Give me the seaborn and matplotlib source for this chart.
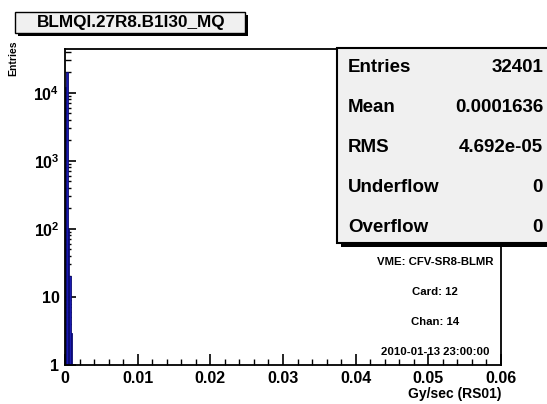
import matplotlib
matplotlib.use("Agg")
import matplotlib.pyplot as plt
import matplotlib.ticker as mticker
from matplotlib.patches import Rectangle
import numpy as np
import pandas as pd
import seaborn as sns

# histogram bins (Gy/sec) and entries
bin_lefts = [0.0, 0.0002, 0.0004, 0.0006, 0.0008]
bin_width = 0.0002
bin_counts = [12278, 20000, 100, 20, 3]

title_text = "BLMQI.27R8.B1I30_MQ"
stat_names = ["Entries", "Mean", "RMS", "Underflow", "Overflow"]
stat_values = ["32401", "0.0001636", "4.692e-05", "0", "0"]
info_lines = ["VME: CFV-SR8-BLMR", "Card: 12", "Chan: 14", "2010-01-13 23:00:00"]
x_ticks = [0, 0.01, 0.02, 0.03, 0.04, 0.05, 0.06]
x_tick_labels = ["0", "0.01", "0.02", "0.03", "0.04", "0.05", "0.06"]
y_ticks = [1, 10, 100, 1000, 10000]
y_tick_labels = ["1", "10", r"$\mathbf{10^{2}}$", r"$\mathbf{10^{3}}$", r"$\mathbf{10^{4}}$"]

sns.set_theme(style="ticks")
plt.rcParams["font.family"] = ["Liberation Sans", "DejaVu Sans"]
plt.rcParams["font.weight"] = "bold"
plt.rcParams["text.color"] = "black"
plt.rcParams["axes.labelcolor"] = "black"
plt.rcParams["xtick.color"] = "black"
plt.rcParams["ytick.color"] = "black"
plt.rcParams["mathtext.fontset"] = "custom"
plt.rcParams["mathtext.bf"] = "Liberation Sans:bold"
plt.rcParams["mathtext.rm"] = "Liberation Sans:bold"

W, H = 547, 404
fig = plt.figure(figsize=(W / 100, H / 100), dpi=100)
fig.patch.set_facecolor("white")


def fx(px):
    return px / W


def fy(py):
    return 1 - py / H


ax = fig.add_axes([fx(65), fy(365), fx(501) - fx(65), fy(49) - fy(365)])

edges = [float(v) for v in bin_lefts] + [bin_lefts[-1] + bin_width]
hist_df = pd.DataFrame({
    "gy": [v + bin_width / 2 for v in bin_lefts],
    "entries": bin_counts,
})
sns.histplot(data=hist_df, x="gy", weights="entries", bins=edges, ax=ax,
             color="#1a1ab0", edgecolor="#0a0a70", linewidth=0.6, alpha=1.0)
ax.set_yscale("log")
ax.set_xlim(0, 0.06)
ax.set_ylim(1, 44000)

ax.set_xticks(x_ticks)
ax.set_xticklabels(x_tick_labels, fontsize=11.5, fontweight="bold")
ax.xaxis.set_minor_locator(mticker.MultipleLocator(0.002))
ax.set_yticks(y_ticks)
ax.set_yticklabels(y_tick_labels, fontsize=11.5, fontweight="bold")
ax.yaxis.set_minor_locator(mticker.LogLocator(base=10, subs=np.arange(2, 10)))
ax.yaxis.set_minor_formatter(mticker.NullFormatter())
ax.tick_params(which="both", direction="in", top=False, right=False, colors="black")
ax.tick_params(which="major", length=8, width=1.2, pad=4)
ax.tick_params(which="minor", length=4, width=1.0)
for s in ax.spines.values():
    s.set_color("black")
    s.set_linewidth(1.3)
ax.set_ylabel("")
ax.set_xlabel("Gy/sec (RS01)", loc="right", fontsize=10, fontweight="bold", labelpad=1)

# y axis title
fig.text(fx(13), fy(40), "Entries", rotation=90, ha="center", va="top",
         fontsize=7.5, fontweight="bold")

# title box with shadow
fig.patches.append(Rectangle((fx(18), fy(36)), fx(245) - fx(15), fy(12) - fy(33),
                             transform=fig.transFigure, facecolor="black", edgecolor="none"))
fig.patches.append(Rectangle((fx(15), fy(33)), fx(245) - fx(15), fy(12) - fy(33),
                             transform=fig.transFigure, facecolor="#f0f0f0",
                             edgecolor="black", linewidth=1.0))
fig.text(fx(131), fy(23), title_text, ha="center", va="center", fontsize=12.3, fontweight="bold")

# stats box with shadow
fig.patches.append(Rectangle((fx(341), fy(247)), fx(560) - fx(341), fy(52) - fy(247),
                             transform=fig.transFigure, facecolor="black", edgecolor="none",
                             zorder=5))
fig.patches.append(Rectangle((fx(337), fy(243)), fx(560) - fx(337), fy(48) - fy(243),
                             transform=fig.transFigure, facecolor="#f0f0f0",
                             edgecolor="black", linewidth=1.5, zorder=6))
row_y = [67, 108, 148, 188, 228]
for name, value, py in zip(stat_names, stat_values, row_y):
    fig.text(fx(348), fy(py), name, ha="left", va="center", fontsize=13.5,
             fontweight="bold", zorder=7)
    fig.text(fx(543), fy(py), value, ha="right", va="center", fontsize=13.5,
             fontweight="bold", zorder=7)

# info lines
info_y = [262, 292, 322, 352]
for line, py in zip(info_lines, info_y):
    fig.text(fx(435), fy(py), line, ha="center", va="center", fontsize=8.2,
             fontweight="bold")

fig.savefig("out.png", dpi=100)
